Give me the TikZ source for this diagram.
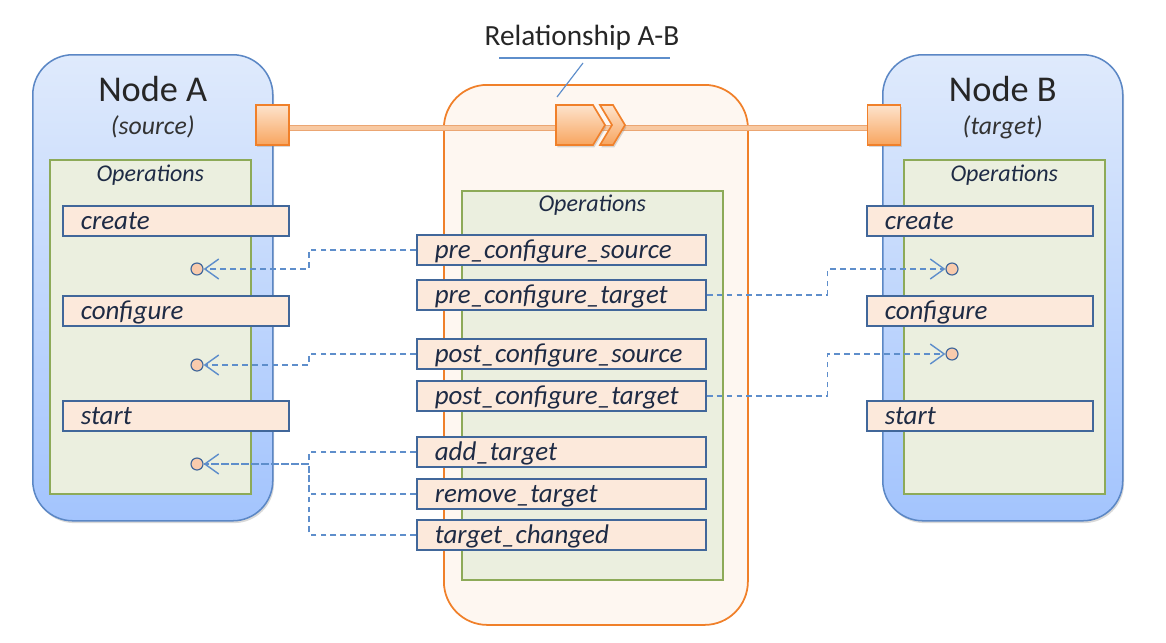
\documentclass[tikz,border=0pt]{standalone}
\usepackage{fontspec}
\setmainfont{Carlito}
\usetikzlibrary{arrows.meta,shadows}

\definecolor{nodeEdge}{HTML}{5B87C5}
\definecolor{nodeTop}{HTML}{DFEAFC}
\definecolor{nodeBot}{HTML}{A3C4FD}
\definecolor{opsFill}{HTML}{EBEFDF}
\definecolor{opsEdge}{HTML}{8DAA58}
\definecolor{opFill}{HTML}{FCE9DB}
\definecolor{opEdge}{HTML}{41679A}
\definecolor{relEdge}{HTML}{F0802A}
\definecolor{relFill}{HTML}{FEF7F1}
\definecolor{portTop}{HTML}{FDE3CC}
\definecolor{portBot}{HTML}{F8A55F}
\definecolor{linkCol}{HTML}{F8C9A2}
\definecolor{linkEdge}{HTML}{EBA673}
\definecolor{wireCol}{HTML}{5E8ECB}
\definecolor{sockFill}{HTML}{F8CBAD}
\definecolor{txtCol}{HTML}{1E2B45}

\newcommand{\opfont}{\fontsize{23}{25}\selectfont\itshape}

\begin{document}
\begin{tikzpicture}[x=0.03cm, y=-0.03cm,
    shade/.style={opacity=0.3, shadow xshift=0.04cm, shadow yshift=-0.07cm},
    nodebox/.style={draw=nodeEdge, line width=1.3pt, top color=nodeTop, bottom color=nodeBot,
      rounded corners=1.2cm, minimum width=7.2cm, minimum height=13.98cm,
      anchor=north west, inner sep=0pt, drop shadow={shade}},
    relbox/.style={draw=relEdge, line width=1.5pt, fill=relFill, rounded corners=1.3cm,
      minimum width=9.12cm, minimum height=16.2cm, anchor=north west, inner sep=0pt},
    opsbox/.style={draw=opsEdge, line width=1.3pt, fill=opsFill, anchor=north west, inner sep=0pt},
    opbox/.style={draw=opEdge, line width=1.4pt, fill=opFill, anchor=north west,
      minimum height=0.9cm, inner xsep=0.54cm, inner ysep=0pt, text width=#1, align=left,
      text height=16pt, text depth=1.5pt, text=txtCol, font=\opfont},
    port/.style={draw=relEdge, line width=1.4pt, top color=portTop, bottom color=portBot,
      drop shadow={shade}},
    wire/.style={draw=wireCol, line width=1.3pt, dash pattern=on 5pt off 3.5pt},
    barb/.style={-{Straight Barb[length=0.42cm, width=0.6cm, line width=1.2pt]}},
    sock/.style={circle, draw=opEdge, fill=sockFill, line width=1pt, inner sep=0pt, minimum size=0.36cm},
    title/.style={text=black!85, font=\fontsize{31}{34}\selectfont},
    subtitle/.style={text=black!80, font=\fontsize{22}{24}\selectfont\itshape},
    opslabel/.style={text=txtCol, font=\fontsize{20.5}{22}\selectfont\itshape}]
  \useasboundingbox (0,0) rectangle (1166,643);

  % 1. 节点框
  \node[nodebox] (nodeA) at (32,54) {};
  \node[nodebox] (nodeB) at (882,54) {};
  \node[title] (titleA) at ([yshift=-1.05cm]nodeA.north) {Node A};
  \node[subtitle] (subA) at ([yshift=-2.19cm]nodeA.north) {(source)};
  \node[title] (titleB) at ([yshift=-1.05cm]nodeB.north) {Node B};
  \node[subtitle] (subB) at ([yshift=-2.19cm]nodeB.north) {(target)};

  % 2. 关系框与连线
  \node[relbox] (rel) at (443,84) {};
  \node[port, minimum width=0.99cm, minimum height=1.2cm, inner sep=0pt] (portA) at (272.5,125) {};
  \node[port, minimum width=0.99cm, minimum height=1.2cm, inner sep=0pt] (portB) at (884,125) {};
  \draw[draw=linkEdge, line width=0.6pt, double=linkCol, double distance=0.14cm]
    ([yshift=-0.09cm]portA.east) -- ([yshift=-0.09cm]portB.west);
  \draw[port] (556,105) -- (593,105) -- (605,125) -- (593,145) -- (556,145) -- cycle;
  \draw[port] (600,105) -- (613,105) -- (625,125) -- (613,145) -- (600,145) -- (612,125) -- cycle;

  \node[text=black!85, font=\fontsize{25}{28}\selectfont] (relLabel) at (582,38) {Relationship A-B};
  \coordinate (ulL) at (499,58);
  \coordinate (ulR) at (670,58);
  \coordinate (lead) at (583,63);
  \coordinate (leadEnd) at (557,97);
  \draw[wireCol, line width=1pt] (ulL) -- (ulR);
  \draw[wireCol, line width=1pt] (lead) -- (leadEnd);

  % 3. 操作区
  \node[opsbox, minimum width=6.03cm, minimum height=10.02cm] (opsA) at (49,159) {};
  \node[opsbox, minimum width=6.03cm, minimum height=10.02cm] (opsB) at (903,159) {};
  \node[opsbox, minimum width=7.83cm, minimum height=11.67cm] (opsR) at (461,190) {};
  \node[opslabel] at ([yshift=-0.48cm]opsA.north) {Operations};
  \node[opslabel] at ([yshift=-0.48cm]opsB.north) {Operations};
  \node[opslabel] at ([yshift=-0.44cm]opsR.north) {Operations};

  \node[opbox=5.7cm] (aCreate) at (62,205) {create};
  \node[opbox=5.7cm] (aConfigure) at (62,295) {configure};
  \node[opbox=5.7cm] (aStart) at (62,400) {start};
  \node[opbox=5.7cm] (bCreate) at (866,205) {create};
  \node[opbox=5.7cm] (bConfigure) at (866,295) {configure};
  \node[opbox=5.7cm] (bStart) at (866,400) {start};

  \node[opbox=7.59cm] (preSrc) at (416,234) {pre\_configure\_source};
  \node[opbox=7.59cm] (preTgt) at (416,279) {pre\_configure\_target};
  \node[opbox=7.59cm] (postSrc) at (416,338) {post\_configure\_source};
  \node[opbox=7.59cm] (postTgt) at (416,380) {post\_configure\_target};
  \node[opbox=7.59cm] (addTgt) at (416,436) {add\_target};
  \node[opbox=7.59cm] (remTgt) at (416,478) {remove\_target};
  \node[opbox=7.59cm] (tgtChg) at (416,519) {target\_changed};

  % 4. 接口与虚线
  \node[sock] (sockA1) at (197,269) {};
  \node[sock] (sockA2) at (197,365) {};
  \node[sock] (sockA3) at (197,464) {};
  \node[sock] (sockB1) at (952,269) {};
  \node[sock] (sockB2) at (952,354) {};

  \draw[wire, barb] (preSrc.west) -- ++(-107,0) |- (sockA1.east);
  \draw[wire, barb] (postSrc.west) -- ++(-107,0) |- (sockA2.east);
  \draw[wire, barb] (addTgt.west) -- ++(-107,0) |- (sockA3.east);
  \draw[wire] (remTgt.west) -- ++(-107,0) |- (sockA3.east);
  \draw[wire] (tgtChg.west) -- ++(-107,0) |- (sockA3.east);
  \draw[wire, barb] (preTgt.east) -- ++(121,0) |- (sockB1.west);
  \draw[wire, barb] (postTgt.east) -- ++(121,0) |- (sockB2.west);
\end{tikzpicture}
\end{document}
